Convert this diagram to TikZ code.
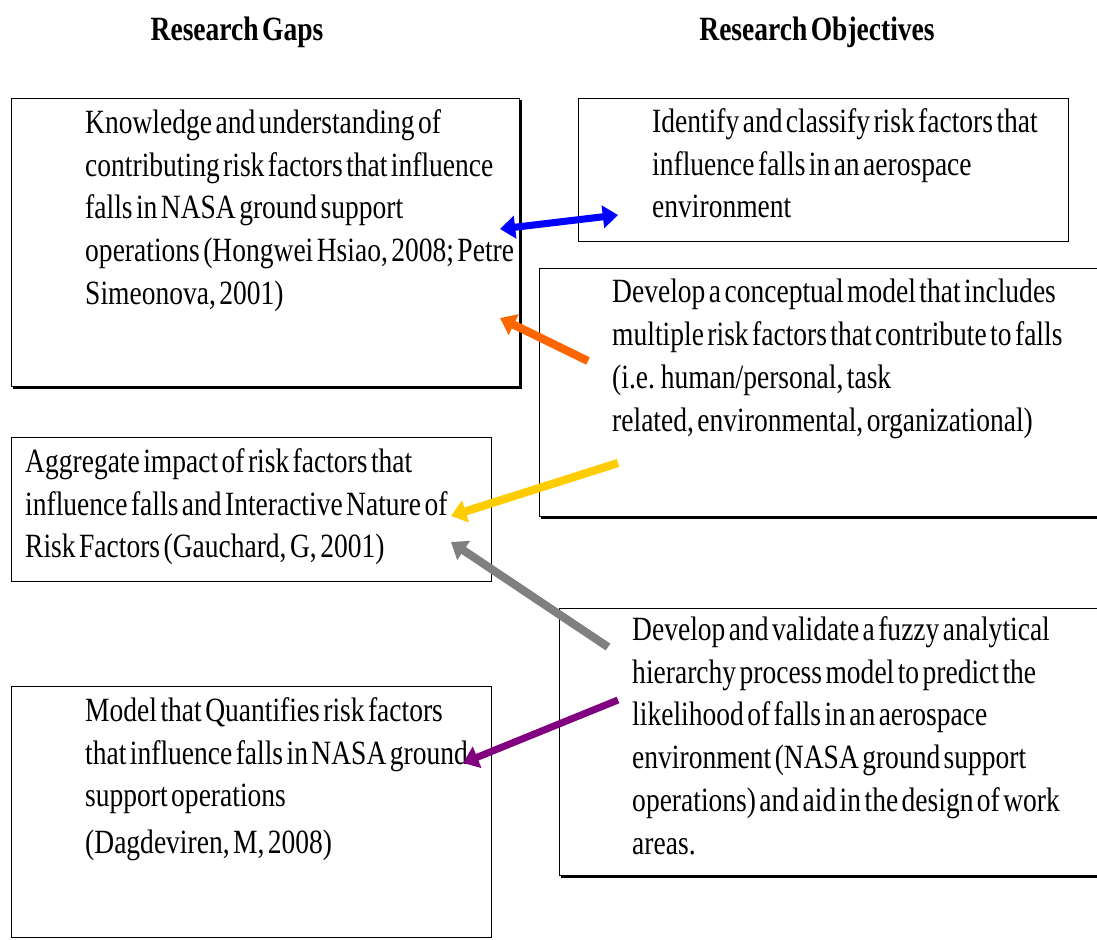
\documentclass[tikz,border=0pt]{standalone}
\usepackage{fontspec}
\setmainfont[FakeStretch=0.81,WordSpace=0.5]{Liberation Serif}
\usepackage{tikz}
\usetikzlibrary{arrows.meta,calc}
\definecolor{orangearrow}{RGB}{255,102,0}
\definecolor{goldarrow}{RGB}{255,204,0}
\definecolor{grayarrow}{RGB}{128,128,128}
\definecolor{purplearrow}{RGB}{128,0,128}
\newcommand{\boxsize}{\fontsize{29pt}{36.6pt}\selectfont}
\newcommand{\makeframe}[2]{
	\draw[line width=0.8pt] (#1) rectangle (#2);
}
\newcommand{\makeshadowframe}[2]{
	\draw[line width=0.8pt] (#1) rectangle (#2);
	\draw[line width=3pt] ($(#1 |- #2)+(2,1.5)$) -| ($(#2 |- #1)+(1.5,2)$);
}

\begin{document}
\begin{tikzpicture}[x=0.03cm,y=-0.03cm]
	\useasboundingbox (0,0) rectangle (1097,939);
	\tikzset{
		txt/.style={anchor=north west, inner sep=0pt, align=left, font=\boxsize, execute at begin node={\strut}},
		head/.style={anchor=base, inner sep=0pt, font=\boxsize\bfseries},
		arrowline/.style={line width=6pt, -{Triangle[length=13pt,width=19pt]}}
	}
	% column headings
	\node[head] (gapshead) at (237,40) {Research Gaps};
	\node[head] (objhead) at (817,40) {Research Objectives};

	% frames
	\coordinate (G1a) at (11,98);   \coordinate (G1b) at (519,386);
	\coordinate (O1a) at (578,98);  \coordinate (O1b) at (1068,241);
	\coordinate (O2a) at (539,268); \coordinate (O2b) at (1110,516);
	\coordinate (G2a) at (11,437);  \coordinate (G2b) at (491,581);
	\coordinate (O3a) at (559,608); \coordinate (O3b) at (1110,875);
	\coordinate (G3a) at (11,686);  \coordinate (G3b) at (491,937);
	\makeshadowframe{G1a}{G1b}
	\makeframe{O1a}{O1b}
	\makeshadowframe{O2a}{O2b}
	\makeframe{G2a}{G2b}
	\makeshadowframe{O3a}{O3b}
	\makeframe{G3a}{G3b}

	% texts
	\node[txt] (gap1) at (85,109) {Knowledge and understanding of\\contributing risk factors that influence\\falls in NASA ground support\\operations (Hongwei Hsiao, 2008; Petre\\Simeonova, 2001)};
	\node[txt] (obj1) at (652,108) {Identify and classify risk factors that\\influence falls in an aerospace\\environment};
	\node[txt] (obj2) at (612,279) {Develop a conceptual model that includes\\multiple risk factors that contribute to falls\\(i.e. human/personal, task\\related, environmental, organizational)};
	\node[txt] (gap2) at (25,448) {Aggregate impact of risk factors that\\influence falls and Interactive Nature of\\Risk Factors (Gauchard, G, 2001)};
	\node[txt] (obj3) at (632,616) {Develop and validate a fuzzy analytical\\hierarchy process model to predict the\\likelihood of falls in an aerospace\\environment (NASA ground support\\operations) and aid in the design of work\\areas.};
	\node[txt] (gap3) at (85,697) {Model that Quantifies risk factors\\that influence falls in NASA ground\\support operations\\[3pt](Dagdeviren, M, 2008)};

	% arrow ends
	\coordinate (blueL) at (500,229);   \coordinate (blueR) at (618,215);
	\coordinate (orangeT) at (588,361); \coordinate (orangeH) at (500,318);
	\coordinate (goldT) at (618,463);   \coordinate (goldH) at (451,516);
	\coordinate (grayT) at (608,647);   \coordinate (grayH) at (451,542);
	\coordinate (purpleT) at (618,700); \coordinate (purpleH) at (463,763);

	\draw[arrowline, {Triangle[length=13pt,width=19pt]}-{Triangle[length=13pt,width=19pt]}, blue] (blueL) -- (blueR);
	\draw[arrowline, orangearrow, line width=7pt] (orangeT) -- (orangeH);
	\draw[arrowline, goldarrow, line width=7pt] (goldT) -- (goldH);
	\draw[arrowline, grayarrow, line width=7pt] (grayT) -- (grayH);
	\draw[arrowline, purplearrow] (purpleT) -- (purpleH);
\end{tikzpicture}
\end{document}
